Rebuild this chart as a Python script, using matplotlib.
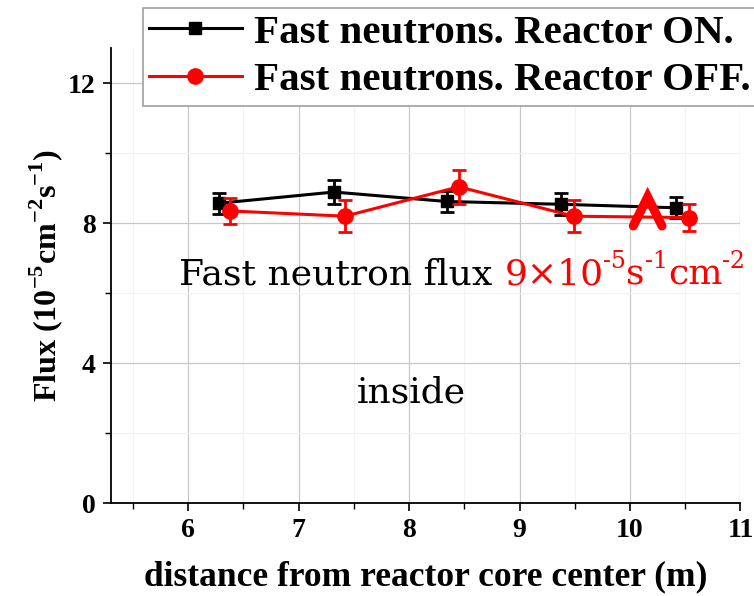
import matplotlib
matplotlib.use("Agg")
import matplotlib.pyplot as plt
from matplotlib.ticker import MultipleLocator
from matplotlib.transforms import offset_copy

# bold Times-like text everywhere, serif maths for the unit superscripts
plt.rcParams["font.family"] = "Liberation Serif"
plt.rcParams["font.weight"] = "bold"
plt.rcParams["mathtext.fontset"] = "custom"
plt.rcParams["mathtext.rm"] = "Liberation Serif:bold"
plt.rcParams["mathtext.bf"] = "Liberation Serif:bold"

# measured flux, reactor on (black) and off (red)
dist_on = [6.28, 7.32, 8.34, 9.38, 10.42]
flux_on = [8.57, 8.89, 8.62, 8.54, 8.44]
err_on = [0.30, 0.34, 0.31, 0.31, 0.30]

dist_off = [6.38, 7.42, 8.45, 9.49, 10.53]
flux_off = [8.35, 8.20, 9.04, 8.20, 8.16]
err_off = [0.36, 0.45, 0.49, 0.45, 0.38]

x_ticks = [6, 7, 8, 9, 10, 11]
y_ticks = [0, 4, 8, 12]

# note text: (string, colour, superscript?)
note_parts = [("Fast neutron flux ", "black", False),
              ("9×10", "red", False), ("-5", "red", True),
              ("s", "red", False), ("-1", "red", True),
              ("cm", "red", False), ("-2", "red", True)]

fig = plt.figure(figsize=(7.54, 5.96), dpi=100)
ax = fig.add_axes([0.147, 0.156, 0.835, 0.763])

eb_on = ax.errorbar(dist_on, flux_on, yerr=err_on, color="black", lw=2.2,
                    marker="s", ms=9, elinewidth=2.0, capsize=5, capthick=2.0, zorder=3)
eb_off = ax.errorbar(dist_off, flux_off, yerr=err_off, color="red", lw=2.2,
                     marker="o", ms=11, elinewidth=2.0, capsize=5, capthick=2.0, zorder=4)

# red caret pointing at the last measuring position
ax.plot([10.03, 10.16, 10.29], [7.92, 8.75, 7.92], color="red", lw=6.5,
        solid_capstyle="round", solid_joinstyle="miter", zorder=5)

ax.set_xlim(5.3, 11)
ax.set_ylim(0, 13)
ax.set_xticks(x_ticks)
ax.set_yticks(y_ticks)
ax.xaxis.set_minor_locator(MultipleLocator(0.5))
ax.yaxis.set_minor_locator(MultipleLocator(2))
ax.tick_params(which="major", direction="out", length=6, width=1.2, labelsize=20, pad=5)
ax.tick_params(which="minor", direction="out", length=4, width=1.0)
ax.grid(which="major", color="#c8c8c8", lw=0.9)
ax.grid(which="minor", color="#f2f2f2", lw=0.8)
ax.set_axisbelow(True)
for side in ["top", "right"]:
    ax.spines[side].set_visible(False)
for side in ["left", "bottom"]:
    ax.spines[side].set_linewidth(1.3)

ax.set_xlabel("distance from reactor core center (m)", fontsize=25.5,
              fontweight="bold", labelpad=12)
ax.set_ylabel(r"Flux (10$^{-5}$cm$^{-2}$s$^{-1}$)", fontsize=23,
              fontweight="bold", labelpad=2)

leg = ax.legend([eb_on.lines[0], eb_off.lines[0]],
                ["Fast neutrons. Reactor ON.", "Fast neutrons. Reactor OFF."],
                loc="upper left", bbox_to_anchor=(0.19, 0.987), bbox_transform=fig.transFigure,
                prop={"family": "Liberation Serif", "weight": "bold", "size": 29.5},
                frameon=True, fancybox=False, edgecolor="#a0a0a0", framealpha=1,
                handlelength=2.25, handletextpad=0.3, borderpad=0.15, labelspacing=0.25,
                borderaxespad=0)
leg.get_frame().set_linewidth(1.2)

# lay the note out piece by piece so the superscripts sit after each unit
renderer = fig.canvas.get_renderer()
x0, base = 0.238, 0.522
shift = 0.0
for s, c, sup in note_parts:
    size = 17 if sup else 26
    tr = offset_copy(fig.transFigure, fig=fig, x=shift, y=12 if sup else 0, units="points")
    t = fig.text(x0, base, s, fontsize=size, family="DejaVu Serif", weight="normal",
                 color=c, va="baseline", transform=tr)
    w = t.get_window_extent(renderer).width
    shift += w * 72 / fig.dpi

fig.text(0.545, 0.325, "inside", fontsize=26, family="DejaVu Serif",
         weight="normal", color="black", ha="center", va="baseline")

fig.savefig("out.png", dpi=100)
